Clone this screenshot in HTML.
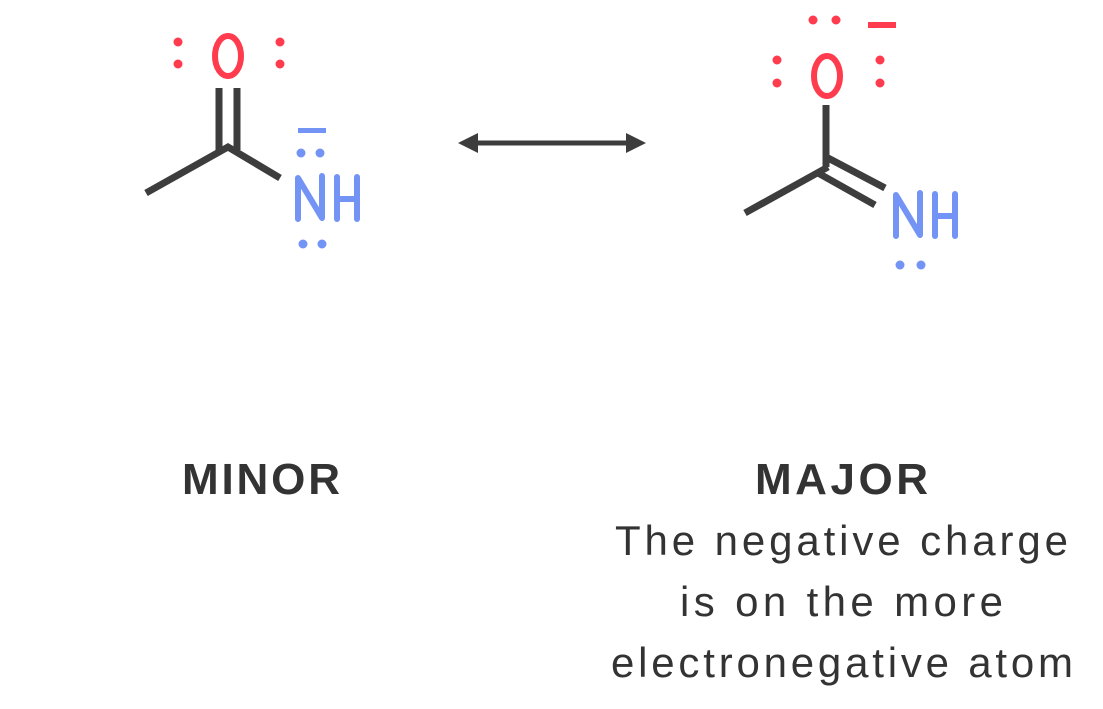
<!DOCTYPE html>
<html><head><style>
html,body{margin:0;padding:0;background:#fff;width:1103px;height:709px;overflow:hidden}
svg{display:block}
</style></head><body>
<svg width="1103" height="709" viewBox="0 0 1103 709" xmlns="http://www.w3.org/2000/svg">
<g stroke="#3d3d3d" stroke-width="7" fill="none" stroke-linecap="butt">
<polyline points="146,193 228,147 280,178"/>
<line x1="219" y1="88" x2="219" y2="150"/>
<line x1="237" y1="88" x2="237" y2="150"/>
<polyline points="745,213 828,167"/>
<line x1="826" y1="105" x2="826" y2="167"/>
<line x1="828" y1="158" x2="885" y2="188"/>
<line x1="818" y1="173" x2="875" y2="205"/>
<line x1="470" y1="143" x2="633" y2="143" stroke-width="5"/>
</g>
<polygon points="458,143 478,133 478,153" fill="#3d3d3d"/>
<polygon points="646,143 626,133 626,153" fill="#3d3d3d"/>
<g fill="#ff3b4e">
<circle cx="178" cy="42" r="4.5"/><circle cx="178" cy="64" r="4.5"/>
<circle cx="280" cy="42" r="4.5"/><circle cx="280" cy="64" r="4.5"/>
<circle cx="777" cy="60" r="4.5"/><circle cx="777" cy="83" r="4.5"/>
<circle cx="880" cy="60" r="4.5"/><circle cx="880" cy="83" r="4.5"/>
<circle cx="813" cy="20" r="4.5"/><circle cx="836" cy="20" r="4.5"/>
<rect x="868" y="22" width="28" height="6"/>
</g>
<g fill="none" stroke="#ff3b4e" stroke-width="6">
<ellipse cx="228" cy="56" rx="13" ry="20"/>
<ellipse cx="827" cy="76" rx="13" ry="20"/>
</g>
<g fill="#7393f5">
<circle cx="301" cy="153" r="4.5"/><circle cx="320" cy="153" r="4.5"/>
<circle cx="303" cy="244" r="4.5"/><circle cx="322" cy="244" r="4.5"/>
<circle cx="900" cy="265" r="4.5"/><circle cx="921" cy="265" r="4.5"/>
<rect x="298" y="128" width="28" height="5"/>
</g>
<g fill="none" stroke="#7393f5" stroke-width="6" stroke-linecap="round" stroke-linejoin="round">
<polyline points="298,219 298,178 322,218 322,176"/>
<line x1="337" y1="177" x2="337" y2="219"/><line x1="357" y1="177" x2="357" y2="219"/><line x1="337" y1="199" x2="357" y2="199"/>
<polyline points="896,236 896,195 920,235 920,193"/>
<line x1="935" y1="194" x2="935" y2="236"/><line x1="955" y1="194" x2="955" y2="236"/><line x1="935" y1="216" x2="955" y2="216"/>
</g>
<g font-family="Liberation Sans, sans-serif" fill="#333">
<text x="182" y="494" font-size="44" font-weight="bold" textLength="158" lengthAdjust="spacing">MINOR</text>
<text x="755" y="494" font-size="44" font-weight="bold" textLength="173" lengthAdjust="spacing">MAJOR</text>
<text x="615" y="555" font-size="42" textLength="453" lengthAdjust="spacing">The negative charge</text>
<text x="680" y="616" font-size="42" textLength="323" lengthAdjust="spacing">is on the more</text>
<text x="611" y="677" font-size="42" textLength="462" lengthAdjust="spacing">electronegative atom</text>
</g>
</svg>
</body></html>
